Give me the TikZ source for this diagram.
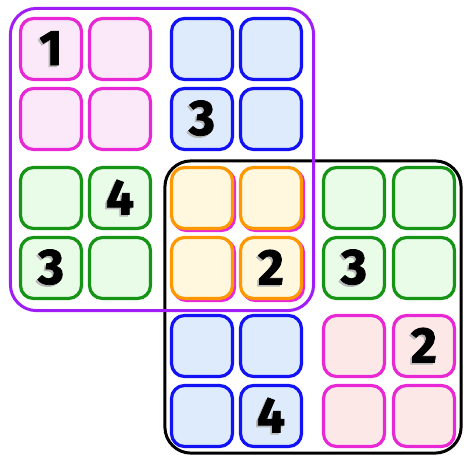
\documentclass[tikz,border=0pt]{standalone}
\usepackage{fontspec}
\usepackage{xcolor}
\usetikzlibrary{positioning,fit}

\newfontfamily\handfont{Fira Sans}[BoldFeatures={FakeBold=1.6}]
\newcommand{\inkdigit}[1]{\makebox[0pt][l]{\kern-1.8pt\raisebox{-1.8pt}{\color{black!28}#1}}#1}

\definecolor{pinkline}{RGB}{232,40,212}
\definecolor{pinkfill}{RGB}{251,233,250}
\definecolor{rosefill}{RGB}{252,233,231}
\definecolor{blueline}{RGB}{18,18,245}
\definecolor{bluefill}{RGB}{221,235,252}
\definecolor{greenline}{RGB}{22,148,22}
\definecolor{greenfill}{RGB}{232,252,232}
\definecolor{orangeline}{RGB}{255,152,0}
\definecolor{orangefill}{RGB}{255,248,222}
\definecolor{frameviolet}{RGB}{160,30,245}

\begin{document}
\begin{tikzpicture}[
    x=1pt, y=-1pt,
    cell/.style={rectangle, rounded corners=13pt, line width=3.2pt, minimum size=61pt, inner sep=0pt,
                 font=\handfont\bfseries\fontsize{50}{50}\selectfont},
    pinkcell/.style={cell, draw=pinkline, fill=pinkfill},
    rosecell/.style={cell, draw=pinkline, fill=rosefill},
    bluecell/.style={cell, draw=blueline, fill=bluefill},
    greencell/.style={cell, draw=greenline, fill=greenfill},
    orangecell/.style={cell, draw=orangeline, fill=orangefill},
    frame/.style={rectangle, rounded corners=26pt, line width=3pt}
]
\useasboundingbox (0,0) rectangle (466,455);

% Upper grid
\node[pinkcell] (up_11) at (51,49) {\inkdigit{1}};
\node[pinkcell] (up_12) at (120,49) {};
\node[pinkcell] (up_21) at (51,119) {};
\node[pinkcell] (up_22) at (120,119) {};

\node[bluecell] (up_13) at (202,49) {};
\node[bluecell] (up_14) at (271,49) {};
\node[bluecell] (up_23) at (202,119) {\inkdigit{3}};
\node[bluecell] (up_24) at (271,119) {};

\node[greencell] (up_31) at (51,198) {};
\node[greencell] (up_32) at (120,198) {\inkdigit{4}};
\node[greencell] (up_41) at (51,268) {\inkdigit{3}};
\node[greencell] (up_42) at (120,268) {};

\node[pinkcell] (up_33) at (204,200) {};
\node[pinkcell] (up_34) at (273,200) {};
\node[pinkcell] (up_43) at (204,270) {};
\node[pinkcell] (up_44) at (273,270) {};

% Lower grid
\node[orangecell] (low_11) at (202,198) {};
\node[orangecell] (low_12) at (271,198) {};
\node[orangecell] (low_21) at (202,268) {};
\node[orangecell] (low_22) at (271,268) {\inkdigit{2}};

\node[greencell] (low_13) at (354,198) {};
\node[greencell] (low_14) at (424,198) {};
\node[greencell] (low_23) at (354,268) {\inkdigit{3}};
\node[greencell] (low_24) at (424,268) {};

\node[bluecell] (low_31) at (202,346) {};
\node[bluecell] (low_32) at (271,346) {};
\node[bluecell] (low_41) at (202,416) {};
\node[bluecell] (low_42) at (271,416) {\inkdigit{4}};

\node[rosecell] (low_33) at (354,346) {};
\node[rosecell] (low_34) at (424,346) {\inkdigit{2}};
\node[rosecell] (low_43) at (354,416) {};
\node[rosecell] (low_44) at (424,416) {};

% Frames
\node[frame, draw=black, fit=(low_11)(low_44), inner sep=5pt] (low_frame) {};
\node[frame, draw=frameviolet, fit=(up_11)(up_44), inner sep=8.5pt] (up_frame) {};

\end{tikzpicture}
\end{document}
